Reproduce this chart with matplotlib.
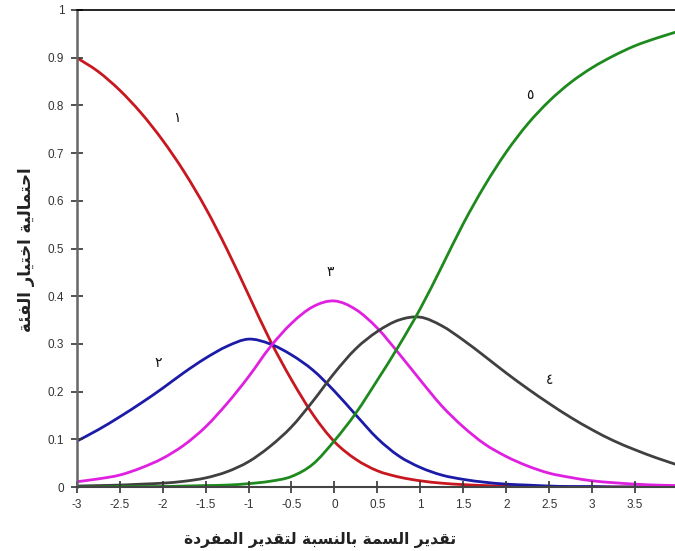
import matplotlib
matplotlib.use("Agg")
import matplotlib.pyplot as plt
from matplotlib.path import Path
from matplotlib.patches import PathPatch
import numpy as np

# ---------------- data ----------------
theta = [-3, -2.75, -2.5, -2.25, -2, -1.75, -1.5, -1.25, -1, -0.75, -0.5, -0.25,
         0, 0.25, 0.5, 0.75, 1, 1.25, 1.5, 1.75, 2, 2.25, 2.5, 2.75, 3, 3.25,
         3.5, 3.75, 4]
cat1 = [.90, .871, .832, .784, .727, .661, .585, .498, .403, .308, .225, .152, .095,
        .058, .034, .021, .013, .008, .005, .003, .002, .001, .001, 0, 0, 0, 0, 0, 0]
cat2 = [.096, .12, .147, .176, .207, .24, .27, .295, .31, .30, .277, .245, .201,
        .151, .102, .065, .041, .025, .016, .010, .006, .004, .002, .001, .001, 0, 0, 0, 0]
cat3 = [.011, .017, .025, .04, .06, .088, .126, .175, .231, .293, .343, .378, .39,
        .372, .333, .28, .224, .17, .126, .09, .064, .044, .029, .02, .013, .009,
        .006, .004, .003]
cat4 = [.002, .003, .004, .006, .008, .012, .019, .032, .053, .085, .126, .18, .239,
        .29, .326, .35, .356, .338, .308, .274, .239, .206, .175, .146, .120, .097,
        .078, .061, .046]
cat5 = [0, 0, .001, .001, .001, .002, .003, .004, .007, .012, .022, .048, .097,
        .155, .224, .296, .374, .462, .552, .632, .702, .761, .809, .848, .879, .904,
        .925, .941, .955]
curve_labels = ["١", "٢", "٣", "٤", "٥"]
label_pos = [(-1.83, 0.774), (-2.05, 0.26), (-0.05, 0.45), (2.51, 0.224), (2.28, 0.822)]
colors = ["#C8171E", "#1B1BA8", "#E020E0", "#404040", "#1E8A1E"]
xticks = [-3, -2.5, -2, -1.5, -1, -0.5, 0, 0.5, 1, 1.5, 2, 2.5, 3, 3.5]
xtick_labels = ["-3", "-2.5", "-2", "-1.5", "-1", "-0.5", "0", "0.5", "1", "1.5",
                "2", "2.5", "3", "3.5"]
yticks = [0, 0.1, 0.2, 0.3, 0.4, 0.5, 0.6, 0.7, 0.8, 0.9, 1]
ytick_labels = ["0", "0.1", "0.2", "0.3", "0.4", "0.5", "0.6", "0.7", "0.8", "0.9", "1"]
ylabel_text = "احتمالية اختيار الفئة"
xlabel_text = "تقدير السمة بالنسبة لتقدير المفردة"

# ---------- minimal Arabic shaping (presentation forms + visual order) ----------
FORMS = {  # isolated, final, initial, medial
    "ا": ("\uFE8D", "\uFE8E", None, None),
    "ب": ("\uFE8F", "\uFE90", "\uFE91", "\uFE92"),
    "ة": ("\uFE93", "\uFE94", None, None),
    "ت": ("\uFE95", "\uFE96", "\uFE97", "\uFE98"),
    "ح": ("\uFEA1", "\uFEA2", "\uFEA3", "\uFEA4"),
    "خ": ("\uFEA5", "\uFEA6", "\uFEA7", "\uFEA8"),
    "د": ("\uFEA9", "\uFEAA", None, None),
    "ر": ("\uFEAD", "\uFEAE", None, None),
    "س": ("\uFEB1", "\uFEB2", "\uFEB3", "\uFEB4"),
    "ف": ("\uFED1", "\uFED2", "\uFED3", "\uFED4"),
    "ق": ("\uFED5", "\uFED6", "\uFED7", "\uFED8"),
    "ل": ("\uFEDD", "\uFEDE", "\uFEDF", "\uFEE0"),
    "م": ("\uFEE1", "\uFEE2", "\uFEE3", "\uFEE4"),
    "ن": ("\uFEE5", "\uFEE6", "\uFEE7", "\uFEE8"),
    "ي": ("\uFEF1", "\uFEF2", "\uFEF3", "\uFEF4"),
    "ئ": ("\uFE89", "\uFE8A", "\uFE8B", "\uFE8C"),
}


def shape(text):
    out = []
    n = len(text)
    for i, ch in enumerate(text):
        if ch not in FORMS:
            out.append(ch)
            continue
        prev = text[i - 1] if i > 0 else None
        nxt = text[i + 1] if i < n - 1 else None
        joins_prev = prev in FORMS and FORMS[prev][2] is not None
        joins_next = nxt in FORMS and FORMS[ch][2] is not None
        iso, fin, ini, med = FORMS[ch]
        if joins_prev and joins_next:
            out.append(med)
        elif joins_prev:
            out.append(fin)
        elif joins_next:
            out.append(ini)
        else:
            out.append(iso)
    return "".join(out)[::-1]


def smooth_path(xs, ys):
    """Catmull-Rom curve through the data points, as cubic Bezier segments."""
    p = np.column_stack([xs, ys]).astype(float)
    n = len(p)
    verts = [tuple(p[0])]
    codes = [Path.MOVETO]
    for i in range(n - 1):
        p0 = p[i - 1] if i > 0 else p[i]
        p1, p2 = p[i], p[i + 1]
        p3 = p[i + 2] if i + 2 < n else p[i + 1]
        c1 = p1 + (p2 - p0) / 6.0
        c2 = p2 - (p3 - p1) / 6.0
        verts += [tuple(c1), tuple(c2), tuple(p2)]
        codes += [Path.CURVE4] * 3
    return Path(verts, codes)


# ---------------- figure ----------------
fig = plt.figure(figsize=(6.75, 5.51), dpi=100)
ax = fig.add_axes([76.7 / 675, 1 - 487 / 551, 1 - 76.7 / 675, (487 - 10) / 551])

for ys, c in zip([cat1, cat2, cat3, cat4, cat5], colors):
    ax.add_patch(PathPatch(smooth_path(theta, ys), fill=False, edgecolor=c,
                           lw=2.0, capstyle="round", joinstyle="round"))

for lab, (lx, ly) in zip(curve_labels, label_pos):
    ax.text(lx, ly, lab, fontsize=10, ha="center", va="center",
            family="DejaVu Sans", color="#111111")

ax.set_xlim(-3, 3.965)
ax.set_ylim(0, 1)
ax.set_xticks(xticks)
ax.set_xticklabels(xtick_labels)
ax.set_yticks(yticks)
ax.set_yticklabels(ytick_labels)
ax.tick_params(direction="inout", length=8, width=1.2, color="#333333",
               labelsize=8.5, labelcolor="#333333", pad=5)
for lbl in ax.get_xticklabels() + ax.get_yticklabels():
    lbl.set_family("Liberation Sans")

ax.spines["right"].set_visible(False)
ax.spines["top"].set_color("black")
ax.spines["top"].set_linewidth(1.2)
ax.spines["left"].set_color("#666666")
ax.spines["left"].set_linewidth(1.8)
ax.spines["bottom"].set_color("#444444")
ax.spines["bottom"].set_linewidth(1.5)

fig.text(26 / 675, 1 - 250 / 551, shape(ylabel_text), rotation=90, ha="center",
         va="center", fontsize=12, fontweight="bold", family="DejaVu Sans",
         color="#222222")
fig.text(320 / 675, 1 - 540 / 551, shape(xlabel_text), ha="center", va="center",
         fontsize=11.2, fontweight="bold", family="DejaVu Sans", color="#222222")

fig.savefig("out.png", dpi=100)
